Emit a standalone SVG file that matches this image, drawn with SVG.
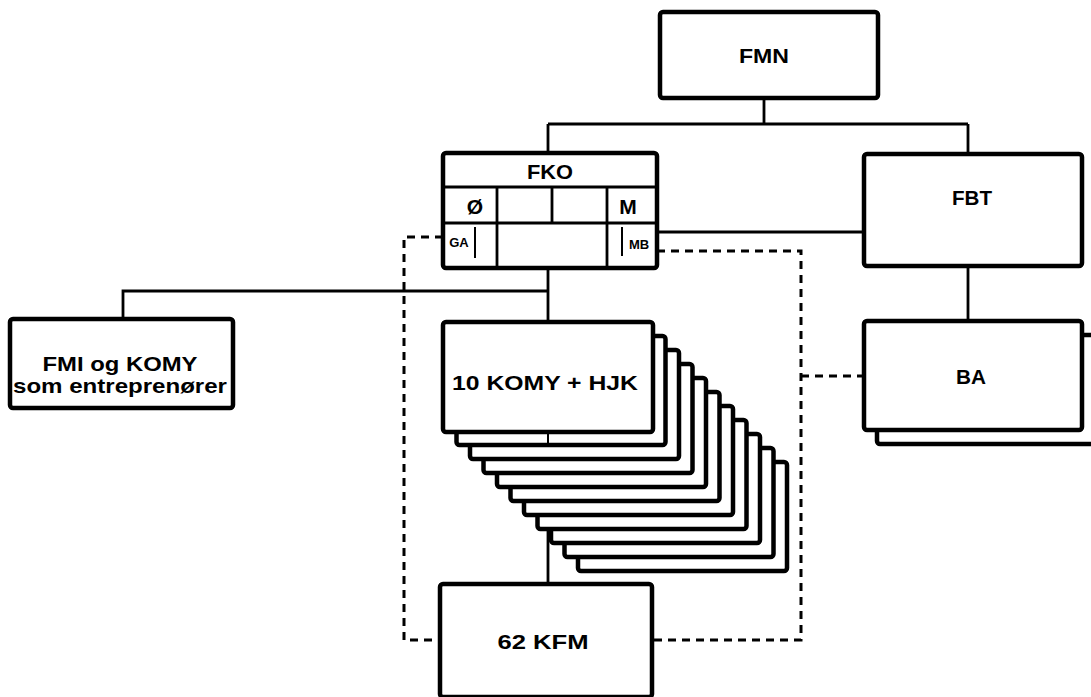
<svg xmlns="http://www.w3.org/2000/svg" width="1091" height="697" viewBox="0 0 1091 697">
<style>
.box{fill:#fff;stroke:#000;stroke-width:4.5}
.ln{fill:none;stroke:#000;stroke-width:2.8}
.thin{fill:none;stroke:#000;stroke-width:2}
.dash{fill:none;stroke:#000;stroke-width:3;stroke-dasharray:8 6}
text{font-family:"Liberation Sans",Arial,sans-serif;font-weight:bold;fill:#000;text-anchor:middle}
.t{font-size:21px}
.s{font-size:13px}
</style>
<rect width="1091" height="697" fill="#fff"/>
<g id="connectors">
<path class="ln" d="M764 98V124M548 124H968M548 124V153M968 124V154"/>
<path class="ln" d="M968 266V321"/>
<path class="ln" d="M657 232H864"/>
<path class="ln" d="M548 268V584"/>
<path class="ln" d="M123 319V291H548"/>
<path class="dash" d="M443 237H404V640H440"/>
<path class="dash" d="M657 251H801V640H652"/>
<path class="dash" d="M801 376H864"/>
</g>
<g id="FMN">
<rect class="box" x="660" y="12" width="218" height="86" rx="3"/>
<text class="t" x="764" y="63" textLength="50" lengthAdjust="spacingAndGlyphs">FMN</text>
</g>
<g id="FKO">
<rect class="box" x="443" y="153" width="214" height="115" rx="3"/>
<path class="ln" d="M443 187H657M443 223H657M497 187V268M552 187V223M607 187V268" stroke-width="3.5"/>
<path class="thin" d="M475 227V258M622 227V256"/>
<text class="t" x="550" y="179" textLength="46" lengthAdjust="spacingAndGlyphs">FKO</text>
<text class="t" x="475" y="214">Ø</text>
<text class="t" x="628" y="214">M</text>
<text class="s" x="459" y="247">GA</text>
<text class="s" x="639" y="249">MB</text>
</g>
<g id="FBT">
<rect class="box" x="864" y="154" width="218" height="112" rx="3"/>
<text class="t" x="972" y="205" textLength="40" lengthAdjust="spacingAndGlyphs">FBT</text>
</g>
<g id="BA">
<rect class="box" x="877" y="335" width="240" height="109" rx="3"/>
<rect class="box" x="864" y="321" width="218" height="109" rx="3"/>
<text class="t" x="971" y="384" textLength="30" lengthAdjust="spacingAndGlyphs">BA</text>
</g>
<g id="FMI">
<rect class="box" x="10" y="319" width="223" height="89" rx="3"/>
<text class="t" x="120" y="371" textLength="155" lengthAdjust="spacingAndGlyphs">FMI og KOMY</text>
<text class="t" x="120" y="393" font-size="18" textLength="214" lengthAdjust="spacingAndGlyphs">som entreprenører</text>
</g>
<g id="KOMY">
<rect class="box" x="578" y="462" width="209" height="109" rx="3"/>
<rect class="box" x="564.5" y="448" width="209" height="109" rx="3"/>
<rect class="box" x="551" y="434" width="209" height="109" rx="3"/>
<rect class="box" x="537.5" y="420" width="209" height="109" rx="3"/>
<rect class="box" x="524" y="406" width="209" height="109" rx="3"/>
<rect class="box" x="510.5" y="392" width="209" height="109" rx="3"/>
<rect class="box" x="497" y="378" width="209" height="109" rx="3"/>
<rect class="box" x="483.5" y="364" width="209" height="109" rx="3"/>
<rect class="box" x="470" y="350" width="209" height="109" rx="3"/>
<rect class="box" x="456.5" y="336" width="209" height="109" rx="3"/>
<path class="thin" d="M548 432V445"/>
<rect class="box" x="443" y="322" width="210" height="110" rx="3"/>
<text class="t" x="545" y="390" textLength="186" lengthAdjust="spacingAndGlyphs">10 KOMY + HJK</text>
</g>
<g id="KFM">
<rect class="box" x="440" y="584" width="212" height="113" rx="3"/>
<text class="t" x="543" y="649" textLength="91" lengthAdjust="spacingAndGlyphs">62 KFM</text>
</g>
</svg>
